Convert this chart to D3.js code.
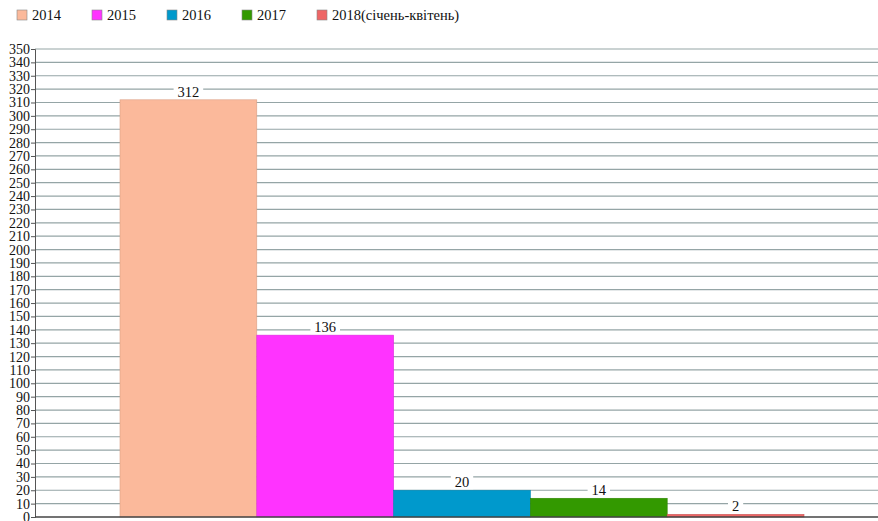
<!DOCTYPE html>
<html>
<head>
<meta charset="utf-8">
<script src="https://cdn.jsdelivr.net/npm/d3@7"></script>
<style>
  body { margin: 0; background: #fff; }
  svg text { font-family: "Liberation Serif", "Times New Roman", serif !important; }
</style>
</head>
<body>
<svg id="chart" width="878" height="521"></svg>
<script>
const series = ['2014', '2015', '2016', '2017', '2018(січень-квітень)']
const values = [312, 136, 20, 14, 2]
const colors = ['#fbb99b', '#ff33ff', '#0099cc', '#339900', '#ee6666']
const yTicks = d3.range(0, 351, 10)

const width = 878, height = 521
const margin = {left: 35, right: 0, top: 49, bottom: 4}
const fontSize = 14.5

const svg = d3.select('#chart')

const y = d3.scaleLinear().domain([0, 350]).range([height - margin.bottom, margin.top])
const x = d3.scaleBand().domain(series).range([120, 804]).padding(0)

// grid lines
svg.append('g')
  .selectAll('line').data(yTicks.filter(d => d > 0)).enter().append('line')
    .attr('x1', margin.left).attr('x2', width)
    .attr('y1', d => y(d)).attr('y2', d => y(d))
    .attr('stroke', '#95a5a6').attr('stroke-width', 1.2)

// y axis
const yAxis = svg.append('g')
  .attr('transform', 'translate(' + margin.left + ',0)')
  .call(d3.axisLeft(y).tickValues(yTicks).tickSize(4).tickPadding(1))
yAxis.attr('font-family', null)
yAxis.select('.domain').attr('stroke', '#555')
yAxis.selectAll('.tick line').attr('stroke', '#555')
yAxis.selectAll('.tick text').attr('font-size', 14).attr('fill', '#111')

// bars
svg.append('g')
  .selectAll('rect').data(values).enter().append('rect')
    .attr('x', (d, i) => x(series[i]))
    .attr('y', d => y(d))
    .attr('width', x.bandwidth())
    .attr('height', d => y(0) - y(d))
    .attr('fill', (d, i) => colors[i])
    .attr('stroke', (d, i) => d3.color(colors[i]).darker(0.4))
    .attr('stroke-width', 0.6)

// x axis baseline
svg.append('line')
  .attr('x1', margin.left).attr('x2', width)
  .attr('y1', y(0)).attr('y2', y(0))
  .attr('stroke', '#444').attr('stroke-width', 1.5)

// value labels with white boxes
const labels = svg.append('g').selectAll('g').data(values).enter().append('g')
  .attr('transform', (d, i) => 'translate(' + (x(series[i]) + x.bandwidth() / 2) + ',' + (y(d) - 8) + ')')
labels.append('rect')
  .attr('x', d => -String(d).length * 3.6 - 4).attr('y', -8)
  .attr('width', d => String(d).length * 7.2 + 8).attr('height', 15)
  .attr('fill', '#fff')
labels.append('text')
  .attr('text-anchor', 'middle').attr('dy', '0.35em')
  .attr('font-size', fontSize).attr('fill', '#111')
  .text(d => d)

// legend
const legend = svg.append('g').selectAll('g').data(series).enter().append('g')
  .attr('transform', (d, i) => 'translate(' + (17 + i * 75) + ',10)')
legend.append('rect')
  .attr('width', 10).attr('height', 10)
  .attr('fill', (d, i) => colors[i])
  .attr('stroke', '#888').attr('stroke-width', 0.6)
legend.append('text')
  .attr('x', 15).attr('y', 5).attr('dy', '0.35em')
  .attr('font-size', fontSize).attr('fill', '#111')
  .text(d => d)
</script>
</body>
</html>
